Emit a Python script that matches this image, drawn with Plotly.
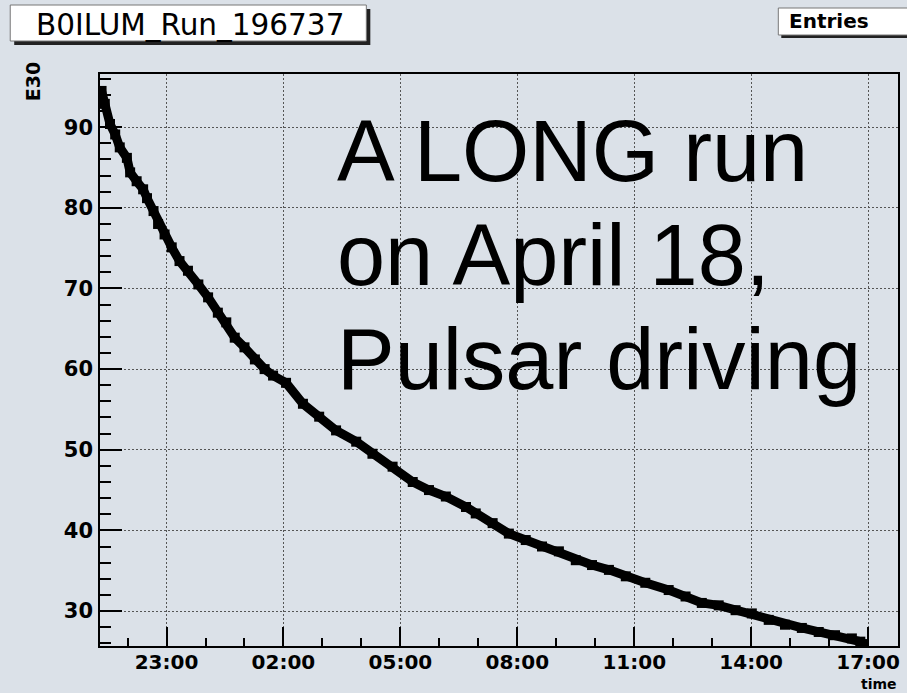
import plotly.graph_objects as go
from datetime import datetime, timedelta

# ---- data ----
times = ["21:20", "21:25", "21:33", "21:41", "21:48", "21:59", "22:04", "22:14", "22:24", "22:30",
         "22:40", "22:47", "22:57", "23:08", "23:20", "23:33", "23:49", "00:04", "00:19", "00:32",
         "00:45", "01:00", "01:16", "01:31", "01:44", "02:04", "02:30", "02:55", "03:21", "03:52",
         "04:17", "04:48", "05:19", "05:44", "06:10", "06:41", "06:56", "07:22", "07:47", "08:13",
         "08:38", "09:04", "09:30", "09:55", "10:21", "10:47", "11:17", "11:53", "12:19", "12:44",
         "13:10", "13:36", "14:01", "14:27", "14:52", "15:18", "15:44", "16:09", "16:35", "16:48",
         "16:52"]
e30 = [94.5, 92.9, 90.4, 89.1, 87.5, 86.2, 84.4, 83.3, 82.3, 81.2,
       79.6, 78.0, 76.7, 75.1, 73.4, 72.2, 70.5, 68.9, 67.0, 65.8,
       63.9, 62.7, 61.2, 60.0, 59.2, 58.3, 55.7, 54.1, 52.4, 51.0,
       49.5, 47.9, 46.0, 45.0, 44.2, 42.9, 42.1, 40.9, 39.6, 38.8,
       38.0, 37.4, 36.3, 35.7, 35.1, 34.3, 33.5, 32.6, 31.8, 31.0,
       30.7, 30.1, 29.7, 28.9, 28.3, 27.9, 27.4, 27.0, 26.6, 26.2,
       25.9]
start_day = "2006-04-17"
x_range = ["2006-04-17 21:17:36", "2006-04-18 17:46:00"]
y_range = [25.66, 96.6]
title_text = "B0ILUM_Run_196737"
y_title = "E30"
x_title = "time"
note_lines = ["A LONG run", "on April 18,", "Pulsar driving"]

# build datetimes, rolling over at midnight
day = datetime.strptime(start_day, "%Y-%m-%d")
xs = []
prev_h = None
for t in times:
    h, m = map(int, t.split(":"))
    if prev_h is not None and h < prev_h:
        day = day + timedelta(days=1)
    prev_h = h
    xs.append(day + timedelta(hours=h, minutes=m))

BG = "#dbe1e8"
L, R, T, B = 100, 900, 74, 646
W, H = 907, 693

def px(x):
    return (x - L) / (R - L)

def py(y):
    return (B - y) / (B - T)

fig = go.Figure()
fig.add_trace(go.Scatter(
    x=xs, y=e30, mode="lines+markers",
    line=dict(color="black", width=9),
    marker=dict(symbol="square", size=10, color="black"),
    showlegend=False, hoverinfo="skip"))

tickfont_x = dict(family="DejaVu Sans", size=20, color="black", weight="bold")
tickfont_y = dict(family="DejaVu Sans", size=21, color="black", weight="bold")
fig.update_layout(
    width=W, height=H,
    margin=dict(l=L, r=W - R, t=T, b=H - B, pad=0),
    paper_bgcolor=BG, plot_bgcolor=BG,
    xaxis=dict(
        type="date", range=x_range,
        tick0="2006-04-17 23:00", dtick=3 * 3600000, tickformat="%H:%M",
        ticks="inside", ticklen=19, tickwidth=1.5, tickcolor="black",
        showgrid=True, gridcolor="#555", gridwidth=1, griddash="2px,2px",
        minor=dict(dtick=3600000, ticks="inside", ticklen=8, tickwidth=1.5,
                   tickcolor="black", showgrid=False),
        showline=True, linecolor="black", linewidth=1.5, mirror=True,
        zeroline=False, tickfont=tickfont_x, ticklabelstandoff=-3),
    yaxis=dict(
        range=y_range, tick0=0, dtick=10,
        ticks="inside", ticklen=22, tickwidth=1.5, tickcolor="black",
        showgrid=True, gridcolor="#555", gridwidth=1, griddash="2px,2px",
        minor=dict(dtick=2, ticks="inside", ticklen=11, tickwidth=1.5,
                   tickcolor="black", showgrid=False),
        showline=True, linecolor="black", linewidth=1.5, mirror=True,
        zeroline=False, tickfont=tickfont_y, ticklabelstandoff=1),
)

shapes = [
    # title box shadow and box
    dict(type="rect", xref="paper", yref="paper", x0=px(14), x1=px(371), y0=py(45), y1=py(9),
         fillcolor="#222", line=dict(width=0)),
    dict(type="rect", xref="paper", yref="paper", x0=px(10), x1=px(367), y0=py(41), y1=py(5),
         fillcolor="white", line=dict(color="#777", width=1)),
    # entries box shadow and box
    dict(type="rect", xref="paper", yref="paper", x0=px(783), x1=px(912), y0=py(38), y1=py(11),
         fillcolor="#222", line=dict(width=0)),
    dict(type="rect", xref="paper", yref="paper", x0=px(780), x1=px(912), y0=py(35), y1=py(8),
         fillcolor="white", line=dict(color="#777", width=1)),
]
fig.update_layout(shapes=shapes)

ann = [
    dict(text=title_text, x=px(190), y=py(25), xanchor="center", yanchor="middle",
         font=dict(family="DejaVu Sans", size=29.5, color="black")),
    dict(text="Entries", x=px(789), y=py(21), xanchor="left", yanchor="middle",
         font=dict(family="DejaVu Sans", size=20, color="black", weight="bold")),
    dict(text=y_title, x=px(33), y=py(82), xanchor="center", yanchor="middle", textangle=-90,
         font=dict(family="DejaVu Sans", size=19, color="black", weight="bold")),
    dict(text=x_title, x=px(901), y=py(694), xanchor="right", yanchor="bottom",
         font=dict(family="DejaVu Sans", size=14, color="black", weight="bold")),
]
for line, yc in zip(note_lines, [151, 255, 359]):
    ann.append(dict(text=line, x=px(336), y=py(yc), xanchor="left", yanchor="middle",
                    font=dict(family="Liberation Sans", size=86.5, color="black")))
for a in ann:
    a.update(xref="paper", yref="paper", showarrow=False)
fig.update_layout(annotations=ann)

fig.write_html("out.html", config={"displayModeBar": False},
               post_script="document.body.style.margin='0px';")
